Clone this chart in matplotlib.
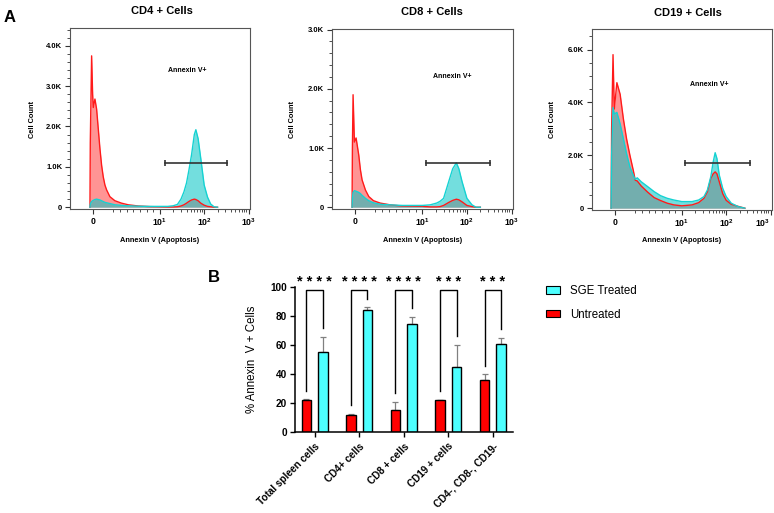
import matplotlib
matplotlib.use('Agg')
import matplotlib.pyplot as plt
from matplotlib.ticker import FixedLocator, MultipleLocator
from matplotlib.patches import Patch

plt.rcParams['font.family'] = ['Liberation Sans', 'DejaVu Sans']
plt.rcParams['font.weight'] = 'bold'
plt.rcParams['mathtext.fontset'] = 'custom'
plt.rcParams['mathtext.rm'] = 'Liberation Sans:bold'
plt.rcParams['mathtext.it'] = 'Liberation Sans:bold'
plt.rcParams['mathtext.bf'] = 'Liberation Sans:bold'

# ---- histogram data (counts in thousands) ----
x_cd4 = [-0.5, -0.45, -0.25, -0.1, 0.0, 0.25, 0.5, 0.75, 1.0, 1.25, 1.5, 1.75, 2.0, 2.5, 3.25, 4.25,
         5.25, 6.75, 8.5, 10, 15, 20, 25, 30, 35, 40, 45, 52, 60, 65, 73, 84, 100, 119, 140, 167, 200]
untreated_cd4 = [0, 1.6, 3.75, 2.8, 2.47, 2.68, 2.43, 1.94, 1.45, 1.04, 0.75, 0.55, 0.43, 0.26, 0.16, 0.10,
                 0.06, 0.03, 0.015, 0.01, 0.005, 0.005, 0.01, 0.03, 0.06, 0.1, 0.14, 0.18, 0.2, 0.19, 0.16,
                 0.1, 0.05, 0.02, 0.01, 0, 0]
sge_cd4 = [0, 0.08, 0.14, 0.16, 0.17, 0.19, 0.2, 0.19, 0.18, 0.16, 0.14, 0.12, 0.11, 0.09, 0.06, 0.045,
           0.035, 0.025, 0.02, 0.02, 0.02, 0.035, 0.07, 0.2, 0.38, 0.6, 0.9, 1.3, 1.8, 1.92, 1.7, 1.2,
           0.55, 0.25, 0.08, 0.01, 0]

x_cd8 = [-0.5, -0.45, -0.35, -0.15, 0.1, 0.5, 0.75, 1.0, 1.5, 2.0, 2.7, 3.7, 5.2, 7, 10, 15, 21, 25,
         30, 39, 48, 58, 66, 78, 100, 130, 160, 200]
untreated_cd8 = [0, 1.0, 1.9, 1.1, 1.17, 0.88, 0.63, 0.46, 0.29, 0.18, 0.11, 0.07, 0.04, 0.02, 0.015,
                 0.005, 0.005, 0.01, 0.03, 0.08, 0.115, 0.135, 0.125, 0.09, 0.03, 0.01, 0, 0]
sge_cd8 = [0, 0.15, 0.25, 0.28, 0.27, 0.25, 0.23, 0.2, 0.15, 0.11, 0.075, 0.05, 0.04, 0.03, 0.03,
           0.04, 0.07, 0.1, 0.15, 0.43, 0.65, 0.75, 0.65, 0.43, 0.15, 0.04, 0.0, 0]

x_cd19 = [-0.63, -0.55, -0.34, -0.15, 0.24, 0.73, 1.22, 1.7, 2.2, 2.7, 3.0, 3.3, 3.9, 4.9, 5.85, 6.8,
          7.8, 8.8, 10, 17, 24, 31.6, 37.8, 45, 51, 56.5, 62, 70, 83.6, 100, 130, 186, 264]
untreated_cd19 = [0, 3.0, 5.81, 3.75, 4.75, 4.31, 3.375, 2.62, 2.0, 1.44, 1.06, 1.03, 0.84, 0.6, 0.4,
                  0.29, 0.19, 0.125, 0.09, 0.125, 0.21, 0.375, 0.625, 1.125, 1.3, 1.375, 1.3, 1.0, 0.55,
                  0.3, 0.15, 0.07, 0]
sge_cd19 = [0, 2.0, 3.81, 3.56, 3.625, 3.19, 2.625, 2.06, 1.56, 1.25, 1.09, 1.15, 1.0, 0.81, 0.625,
            0.475, 0.375, 0.31, 0.25, 0.25, 0.31, 0.44, 0.69, 1.19, 1.75, 2.1, 1.875, 1.25, 0.75, 0.44,
            0.19, 0.06, 0]

hist_titles = ['CD4 + Cells', 'CD8 + Cells', 'CD19 + Cells']
gates = [(13, 330, 1.1), (12.3, 330, 0.754), (11.5, 350, 1.71)]   # (start, end, height)
y_tops = [4.44, 3.01, 6.78]
y_majors = [[0, 1, 2, 3, 4], [0, 1, 2, 3], [0, 2, 4, 6]]
y_minor_step = [0.2, 0.2, 0.5]

# ---- bar chart data ----
groups = ['Total spleen cells', 'CD4+ cells', 'CD8 + cells', 'CD19 + cells', 'CD4-, CD8-, CD19-']
untreated = [22.0, 11.5, 15.0, 22.0, 35.8]
untreated_sd = [0.5, 1.2, 6.0, 0.4, 3.9]
treated = [55.2, 83.8, 74.6, 45.0, 61.0]
treated_sd = [10.6, 2.1, 4.8, 15.0, 3.7]
stars = ['****', '****', '****', '***', '***']

fig = plt.figure(figsize=(7.74, 5.13), dpi=100)
W, H = 774.0, 513.0

def px_axes(l, t, r, b):
    return fig.add_axes([l / W, 1 - b / H, (r - l) / W, (b - t) / H])

hist_boxes = [(70, 28, 250, 209), (332, 29, 513, 209), (592, 29, 772, 210)]
title_pos = [(162, 11), (432, 12), (688, 13)]
annex_pos = [(187, 71), (452, 76), (709, 85)]
count_pos = [(33, 120), (293, 120), (552, 120)]
hist_data = [(x_cd4, untreated_cd4, sge_cd4), (x_cd8, untreated_cd8, sge_cd8),
             (x_cd19, untreated_cd19, sge_cd19)]

for i in range(3):
    ax = px_axes(*hist_boxes[i])
    x, red, cyan = hist_data[i]
    ax.set_xscale('symlog', linthresh=10, linscale=1.35)
    ax.fill_between(x, 0, red, color='red', alpha=0.42, lw=0)
    ax.plot(x, red, color='#ff1a1a', lw=1.0)
    ax.fill_between(x, 0, cyan, color='#00c4c4', alpha=0.55, lw=0)
    ax.plot(x, cyan, color='#14d2d2', lw=1.0)
    g0, g1, gy = gates[i]
    ax.plot([g0, g1], [gy, gy], color='#333333', lw=1.2, marker='|', markersize=5, mew=1.2)
    ax.set_xlim(-3.5, 1080)
    ax.set_ylim(-0.01 * y_tops[i], y_tops[i])
    ax.xaxis.set_major_locator(FixedLocator([0, 10, 100, 1000]))
    ax.set_xticklabels(['0', r'$10^{1}$', r'$10^{2}$', r'$10^{3}$'])
    minors = [3, 4, 5, 6, 7, 8, 9] + [d * k for d in (10, 100) for k in range(2, 10)]
    ax.xaxis.set_minor_locator(FixedLocator(minors))
    ax.set_yticks(y_majors[i])
    ax.set_yticklabels(['0' if v == 0 else '%.1fK' % v for v in y_majors[i]])
    ax.yaxis.set_minor_locator(MultipleLocator(y_minor_step[i]))
    ax.tick_params(which='major', labelsize=5.5, length=3.5, width=0.8, pad=2, color='#333333')
    ax.tick_params(axis='x', which='major', labelsize=6.3)
    ax.tick_params(which='minor', length=2, width=0.6, color='#333333')
    if i == 2:
        # keep the last decade label inside the figure edge
        ax.get_xticklabels()[-1].set_horizontalalignment('right')
    for s in ax.spines.values():
        s.set_linewidth(0.8)
        s.set_color('#555555')
    fig.text(title_pos[i][0] / W, 1 - title_pos[i][1] / H, hist_titles[i], ha='center', va='center',
             fontsize=8)
    fig.text(annex_pos[i][0] / W, 1 - annex_pos[i][1] / H, 'Annexin V+', ha='center', va='center',
             fontsize=5)
    fig.text(count_pos[i][0] / W, 1 - count_pos[i][1] / H, 'Cell Count', ha='center', va='center',
             rotation=90, fontsize=5.3)
    ax.text(0.5, (hist_boxes[i][3] - 240) / (hist_boxes[i][3] - hist_boxes[i][1]),
            'Annexin V (Apoptosis)', transform=ax.transAxes, ha='center', va='center', fontsize=5.3)

fig.text(10 / W, 1 - 18 / H, 'A', ha='center', va='center', fontsize=12)
fig.text(214 / W, 1 - 277 / H, 'B', ha='center', va='center', fontsize=12)

# ---- bar chart ----
bx = px_axes(295, 287, 513, 432)
pos = list(range(len(groups)))
off = 0.186
bw = 0.215
xr = [p - off for p in pos]
xc = [p + off for p in pos]
bx.errorbar(xr, untreated, yerr=[[0] * 5, untreated_sd], fmt='none', ecolor='#808080', elinewidth=0.9,
            capsize=2.1, capthick=0.9, zorder=1)
bx.errorbar(xc, treated, yerr=[[0] * 5, treated_sd], fmt='none', ecolor='#808080', elinewidth=0.9,
            capsize=2.1, capthick=0.9, zorder=1)
bx.bar(xr, untreated, width=bw, color='#ff0000', edgecolor='black', linewidth=1.0, zorder=2,
       label='Untreated')
bx.bar(xc, treated, width=bw, color='#4dffff', edgecolor='black', linewidth=1.0, zorder=2,
       label='SGE Treated')

top = 98.2
for i in range(len(groups)):
    lo_l = untreated[i] + untreated_sd[i] + 6
    lo_r = treated[i] + treated_sd[i] + 6
    bx.plot([xr[i], xr[i], xc[i], xc[i]], [lo_l, top, top, lo_r], color='black', lw=1.0,
            clip_on=False, zorder=3)
    bx.text(pos[i], 103.5, ' '.join(stars[i]), ha='center', va='center', fontsize=10.5, clip_on=False)

bx.set_xlim(-0.44, 4.45)
bx.set_ylim(0, 100)
bx.set_yticks([0, 20, 40, 60, 80, 100])
bx.set_xticks(pos)
bx.set_xticklabels(groups, rotation=45, ha='right', rotation_mode='anchor')
bx.tick_params(labelsize=7.2, length=3.5, width=1.0, pad=2)
bx.tick_params(axis='x', pad=3)
for s in ('top', 'right'):
    bx.spines[s].set_visible(False)
for s in ('left', 'bottom'):
    bx.spines[s].set_linewidth(1.1)
bx.set_ylabel('% Annexin  V + Cells', fontsize=8.3, fontweight='normal')
bx.yaxis.set_label_coords(-(295 - 258) / 218.0, 0.5)

handles = [Patch(facecolor='#4dffff', edgecolor='black', lw=0.8),
           Patch(facecolor='#ff0000', edgecolor='black', lw=0.8)]
fig.legend(handles, ['SGE Treated', 'Untreated'], loc='upper left',
           bbox_to_anchor=(546 / W, 1 - 285 / H), frameon=False, borderpad=0, borderaxespad=0,
           handlelength=1.25, handleheight=0.6, handletextpad=0.85, labelspacing=1.0,
           prop={'size': 8.3, 'weight': 'normal'})

fig.savefig('out.png', dpi=100)
